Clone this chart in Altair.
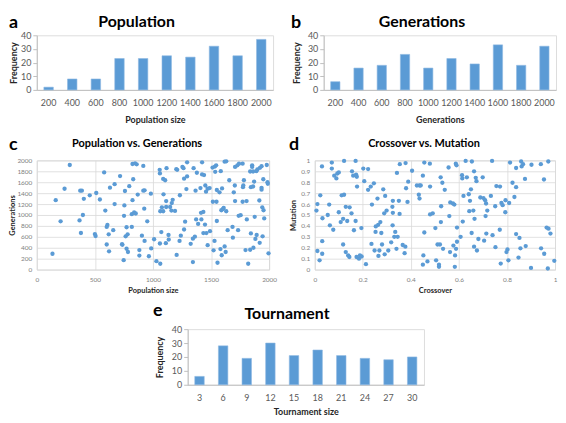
import altair as alt
import pandas as pd

# ---------------- data ----------------
pop_sizes = ["200", "400", "600", "800", "1000", "1200", "1400", "1600", "1800", "2000"]
pop_freq = [2, 8, 8, 23, 23, 25, 24, 32, 25, 37]

gen_sizes = ["200", "400", "600", "800", "1000", "1200", "1400", "1600", "1800", "2000"]
gen_freq = [6, 16, 18, 26, 16, 23, 19, 33, 18, 32]

tour_sizes = ["3", "6", "9", "12", "15", "18", "21", "24", "27", "30"]
tour_freq = [6, 28, 19, 30, 21, 25, 21, 19, 18, 20]

pvg_pop = [135, 163, 205, 239, 284, 368, 374, 388, 380, 397,
           405, 456, 500, 506, 512, 543, 580, 590, 608, 602,
           602, 619, 622, 630, 670, 658, 670, 717, 737, 734,
           748, 751, 754, 759, 765, 773, 773, 785, 782, 796,
           824, 818, 818, 824, 830, 838, 852, 846, 860, 869,
           883, 883, 905, 917, 917, 928, 928, 925, 951, 965,
           982, 985, 1010, 1030, 1063, 1060, 1058, 1063, 1072, 1060,
           1077, 1088, 1091, 1088, 1105, 1117, 1114, 1114, 1111, 1136,
           1134, 1148, 1162, 1170, 1159, 1190, 1201, 1209, 1204, 1229,
           1232, 1240, 1254, 1263, 1268, 1277, 1268, 1294, 1294, 1288,
           1325, 1344, 1344, 1350, 1361, 1367, 1372, 1378, 1389, 1409,
           1417, 1414, 1423, 1434, 1423, 1440, 1434, 1448, 1451, 1457,
           1471, 1471, 1460, 1491, 1488, 1513, 1516, 1522, 1530, 1536,
           1533, 1547, 1550, 1556, 1550, 1544, 1573, 1584, 1581, 1592,
           1589, 1595, 1603, 1617, 1609, 1617, 1626, 1631, 1631, 1643,
           1657, 1685, 1688, 1696, 1707, 1705, 1707, 1727, 1733, 1738,
           1755, 1741, 1772, 1783, 1775, 1778, 1772, 1797, 1806, 1808,
           1820, 1837, 1837, 1843, 1843, 1854, 1854, 1862, 1862, 1865,
           1871, 1876, 1882, 1893, 1890, 1899, 1916, 1919, 1921, 1935,
           1935, 1935, 1941, 1944, 1950, 1952, 1958, 1980, 1986, 1989,
           1995]
pvg_gen = [290, 1272, 884, 1480, 1916, 900, 1445, 1445, 670, 1000,
           1296, 1360, 650, 615, 1403, 1283, 1780, 1080, 818, 782,
           460, 645, 334, 1500, 1564, 722, 1200, 1713, 454, 466,
           173, 985, 1176, 1440, 609, 776, 382, 322, 645, 1528,
           1272, 782, 1015, 1934, 1654, 1045, 1027, 1946, 1928, 1373,
           358, 257, 621, 1445, 1898, 1451, 525, 1116, 884, 245,
           1391, 388, 555, 155, 107, 1761, 1827, 1069, 687, 478,
           1140, 1069, 1379, 1660, 1636, 1857, 1254, 1146, 484, 549,
           633, 1146, 1218, 1278, 1080, 1075, 1839, 1827, 269, 525,
           1361, 621, 1880, 1857, 734, 878, 1665, 1707, 1964, 1475,
           471, 137, 567, 1857, 603, 1445, 919, 1773, 836, 1493,
           919, 1039, 1964, 1057, 1743, 1731, 669, 824, 1540, 1427,
           1481, 448, 669, 704, 1493, 1869, 1242, 352, 525, 1791,
           1887, 1242, 890, 125, 1457, 1910, 1415, 1803, 376, 263,
           1087, 1487, 1110, 1976, 1128, 424, 322, 1982, 1069, 722,
           1636, 782, 585, 1415, 1880, 1540, 1254, 1910, 722, 985,
           997, 1940, 1940, 1636, 1510, 1540, 1242, 358, 1254, 919,
           107, 1797, 364, 663, 1510, 1910, 1880, 1797, 1522, 400,
           1612, 967, 561, 633, 1803, 1833, 1266, 490, 1863, 1892,
           1498, 1463, 1140, 609, 1654, 1087, 937, 1916, 1600, 1570,
           298]

cvm_cross = [0.007, 0.011, 0.011, 0.023, 0.02, 0.03, 0.032, 0.031, 0.031, 0.054,
             0.06, 0.063, 0.071, 0.071, 0.077, 0.081, 0.09, 0.094, 0.1, 0.1,
             0.108, 0.112, 0.118, 0.118, 0.122, 0.122, 0.129, 0.129, 0.135, 0.139,
             0.144, 0.145, 0.155, 0.153, 0.16, 0.163, 0.17, 0.17, 0.172, 0.174,
             0.175, 0.176, 0.184, 0.188, 0.194, 0.195, 0.202, 0.206, 0.213, 0.222,
             0.222, 0.233, 0.236, 0.238, 0.246, 0.249, 0.253, 0.254, 0.261, 0.264,
             0.265, 0.269, 0.273, 0.277, 0.28, 0.285, 0.289, 0.291, 0.293, 0.299,
             0.306, 0.318, 0.323, 0.324, 0.325, 0.325, 0.331, 0.335, 0.34, 0.342,
             0.345, 0.35, 0.353, 0.354, 0.366, 0.374, 0.377, 0.38, 0.378, 0.386,
             0.389, 0.405, 0.425, 0.436, 0.433, 0.436, 0.441, 0.45, 0.45, 0.452,
             0.456, 0.456, 0.469, 0.479, 0.48, 0.48, 0.491, 0.502, 0.505, 0.511,
             0.517, 0.517, 0.521, 0.524, 0.525, 0.526, 0.531, 0.534, 0.541, 0.557,
             0.56, 0.563, 0.564, 0.575, 0.577, 0.581, 0.583, 0.584, 0.587, 0.59,
             0.588, 0.592, 0.592, 0.607, 0.613, 0.614, 0.616, 0.619, 0.628, 0.633,
             0.641, 0.643, 0.646, 0.65, 0.654, 0.653, 0.66, 0.663, 0.663, 0.665,
             0.67, 0.673, 0.675, 0.681, 0.689, 0.699, 0.702, 0.705, 0.709, 0.711,
             0.713, 0.714, 0.718, 0.733, 0.738, 0.74, 0.751, 0.752, 0.756, 0.771,
             0.77, 0.774, 0.777, 0.782, 0.793, 0.794, 0.798, 0.802, 0.806, 0.809,
             0.813, 0.823, 0.831, 0.838, 0.838, 0.838, 0.848, 0.852, 0.856, 0.859,
             0.861, 0.867, 0.875, 0.878, 0.9, 0.902, 0.942, 0.941, 0.954, 0.955,
             0.965, 0.972, 0.973, 0.97, 0.981, 0.997]
cvm_mut = [0.54, 0.60, 0.17, 0.68, 0.085, 0.945, 0.47, 0.26, 0.145, 0.50,
           0.595, 0.405, 0.98, 0.925, 0.365, 0.86, 0.835, 0.88, 0.89, 0.525,
           0.435, 0.68, 0.465, 0.23, 0.995, 0.685, 0.575, 0.16, 0.445, 0.13,
           0.115, 0.57, 0.9, 0.515, 0.86, 0.36, 0.995, 0.445, 0.87, 0.115,
           0.85, 0.76, 0.1, 0.13, 0.38, 0.12, 0.925, 0.81, 0.05, 0.92,
           0.73, 0.76, 0.235, 0.595, 0.79, 0.175, 0.345, 0.395, 0.65, 0.41,
           0.125, 0.175, 0.435, 0.335, 0.23, 0.735, 0.515, 0.14, 0.675, 0.54,
           0.175, 0.25, 0.575, 0.405, 0.63, 0.52, 0.30, 0.345, 0.19, 0.885,
           0.30, 0.63, 0.51, 0.965, 0.225, 0.15, 0.21, 0.745, 0.975, 0.62,
           0.805, 0.905, 0.77, 0.77, 0.685, 0.65, 0.77, 0.86, 0.045, 0.13,
           0.98, 0.34, 0.075, 0.97, 0.76, 0.505, 0.515, 0.38, 0.085, 0.23,
           0.025, 0.045, 0.23, 0.845, 0.435, 0.58, 0.795, 0.19, 0.73, 0.935,
           0.49, 0.16, 0.615, 0.605, 0.22, 0.595, 0.025, 0.13, 0.97, 0.955,
           0.19, 0.385, 0.255, 0.30, 0.865, 0.835, 0.44, 0.675, 0.995, 0.845,
           0.69, 0.535, 0.63, 0.735, 0.99, 0.335, 0.54, 0.90, 0.21, 0.465,
           0.84, 0.81, 0.175, 0.28, 0.66, 0.845, 0.655, 0.265, 0.635, 0.49,
           0.605, 0.33, 0.54, 0.675, 0.995, 0.315, 0.58, 0.205, 0.765, 0.76,
           0.365, 0.055, 0.61, 0.59, 0.525, 0.635, 0.16, 0.185, 0.085, 0.61,
           0.98, 0.795, 0.665, 0.93, 0.755, 0.325, 0.11, 0.29, 0.195, 0.99,
           0.945, 0.965, 0.83, 0.215, 0.015, 0.96, 0.195, 0.965, 0.825, 0.145,
           0.385, 0.99, 0.375, 0.01, 0.33, 0.08]

# ---------------- style ----------------
BLUE = "#5B9BD5"
FONT = "Lato"
AXIS_GRAY = "#BFBFBF"
GRID_GRAY = "#D9D9D9"

one = pd.DataFrame({"k": [0]})


def anchor(L, T, w, h, R, B):
    # invisible rule fixing the panel's bounding box
    return alt.Chart(one).mark_rule(opacity=0, strokeOpacity=0, color="white").encode(
        x=alt.value(-L), x2=alt.value(w + R), y=alt.value(-T), y2=alt.value(h + B)
    )


def label(text, x, y, size, align="center"):
    return alt.Chart(one).mark_text(
        text=text, font=FONT, fontSize=size, fontWeight="bold",
        align=align, baseline="alphabetic", color="black"
    ).encode(x=alt.value(x), y=alt.value(y))


def bar_panel(cats, vals, xtitle, title, letter, w, h, L, T, R, B,
              ytitle_x, title_x, title_y, letter_x, letter_y, lab_pad, xtitle_y):
    df = pd.DataFrame({"c": cats, "f": vals})
    bars = alt.Chart(df).mark_bar(color=BLUE, stroke="#8EB8E2", strokeWidth=0.6).encode(
        x=alt.X("c:N", sort=cats,
                scale=alt.Scale(paddingInner=0.6, paddingOuter=0.3),
                axis=alt.Axis(title=xtitle, labelAngle=0, ticks=False, tickSize=0,
                              labelPadding=lab_pad, labelBaseline="middle",
                              labelColor="#595959", labelFontSize=9, labelFont=FONT,
                              domainColor=AXIS_GRAY, grid=False,
                              titleY=xtitle_y, titleBaseline="middle",
                              titleFontSize=9, titleFontWeight="bold", titleFont=FONT,
                              titleColor="#262626")),
        y=alt.Y("f:Q", scale=alt.Scale(domain=[0, 40], nice=False),
                axis=alt.Axis(title="Frequency", values=[0, 10, 20, 30, 40],
                              tickSize=4, tickColor=AXIS_GRAY, labelPadding=2,
                              labelColor="#595959", labelFontSize=9, labelFont=FONT,
                              domainColor=AXIS_GRAY, grid=False,
                              titleX=ytitle_x, titleY=h / 2, titleAngle=270,
                              titleAlign="center", titleBaseline="middle",
                              titleFontSize=9, titleFontWeight="bold", titleFont=FONT,
                              titleColor="#262626")),
    )
    return alt.layer(
        bars,
        label(title, title_x, title_y, 16),
        label(letter, letter_x, letter_y, 18, "left"),
        anchor(L, T, w, h, R, B),
    ).properties(width=w, height=h)


def scatter_panel(xs, ys, xdom, xvals, ydom, yvals, xfmt, yfmt, xtitle, ytitle, title,
                  letter, w, h, L, T, R, B, ytitle_x, title_x, title_y, letter_x, letter_y):
    df = pd.DataFrame({"x": xs, "y": ys})
    common = dict(grid=True, gridColor=GRID_GRAY, gridWidth=0.8, domain=False, ticks=False,
                  labelColor="#7F7F7F", labelFontSize=6.5, labelFont=FONT,
                  labelOverlap=False, labelFlush=False,
                  titleFontSize=7.5, titleFontWeight="bold", titleFont=FONT,
                  titleColor="#262626")
    pts = alt.Chart(df).mark_circle(color=BLUE, opacity=1, size=19).encode(
        x=alt.X("x:Q", scale=alt.Scale(domain=xdom, nice=False, zero=False),
                axis=alt.Axis(title=xtitle, values=xvals, format=xfmt, labelPadding=10,
                              labelBaseline="middle", titleY=21, titleBaseline="middle",
                              **common)),
        y=alt.Y("y:Q", scale=alt.Scale(domain=ydom, nice=False, zero=False),
                axis=alt.Axis(title=ytitle, values=yvals, format=yfmt, labelPadding=5,
                              titleX=ytitle_x, titleY=h / 2, titleAngle=270,
                              titleAlign="center", titleBaseline="middle", **common)),
    )
    return alt.layer(
        pts,
        label(title, title_x, title_y, 11),
        label(letter, letter_x, letter_y, 18, "left"),
        anchor(L, T, w, h, R, B),
    ).properties(width=w, height=h)


panel_a = bar_panel(pop_sizes, pop_freq, "Population size", "Population", "a",
                    w=238, h=55, L=28, T=25, R=16, B=41,
                    ytitle_x=-23.5, title_x=100.5, title_y=-8, letter_x=-28, letter_y=-7,
                    lab_pad=13, xtitle_y=29.5)
panel_b = bar_panel(gen_sizes, gen_freq, "Generations", "Generations", "b",
                    w=234, h=55, L=33, T=25, R=1, B=41,
                    ytitle_x=-27, title_x=99, title_y=-8, letter_x=-33, letter_y=-7,
                    lab_pad=13, xtitle_y=29.5)

panel_c = scatter_panel(pvg_pop, pvg_gen, [0, 2000], [0, 500, 1000, 1500, 2000],
                        [0, 2000], list(range(0, 2001, 200)), "d", "d",
                        "Population size", "Generations", "Population vs. Generations", "c",
                        w=234, h=110, L=28, T=28, R=18, B=29,
                        ytitle_x=-24, title_x=101, title_y=-13, letter_x=-28, letter_y=-10)
panel_d = scatter_panel(cvm_cross, cvm_mut, [0, 1], [0, 0.2, 0.4, 0.6, 0.8, 1],
                        [0, 1], [0, 0.1, 0.2, 0.3, 0.4, 0.5, 0.6, 0.7, 0.8, 0.9, 1],
                        "~g", "~g",
                        "Crossover", "Mutation", "Crossover vs. Mutation", "d",
                        w=242, h=110, L=26, T=28, R=2, B=29,
                        ytitle_x=-21.5, title_x=110, title_y=-13, letter_x=-26, letter_y=-10)

# empty spacer: an empty text whose bounds reserve the left margin
spacer = alt.Chart(one).mark_text(text="", fontSize=8, align="left", opacity=0).encode(
    x=alt.value(-28), y=alt.value(0)
).properties(
    width=1, height=1,
    view=alt.ViewBackground(stroke="transparent", fill="transparent", strokeWidth=0, opacity=0),
)

panel_e = bar_panel(tour_sizes, tour_freq, "Tournament size", "Tournament", "e",
                    w=238, h=56, L=150, T=29, R=20, B=30,
                    ytitle_x=-28.5, title_x=100, title_y=-10, letter_x=-35, letter_y=-13,
                    lab_pad=13, xtitle_y=27)

row1 = alt.hconcat(panel_a, panel_b, spacing=0)
row2 = alt.hconcat(panel_c, panel_d, spacing=0)
row3 = alt.hconcat(spacer, panel_e, spacing=0)

chart = alt.vconcat(row1, row2, row3, spacing=0).properties(
    padding=0
).configure_view(stroke=None).configure(font=FONT)

chart.save("out.html", embed_options={"renderer": "svg", "actions": False})
